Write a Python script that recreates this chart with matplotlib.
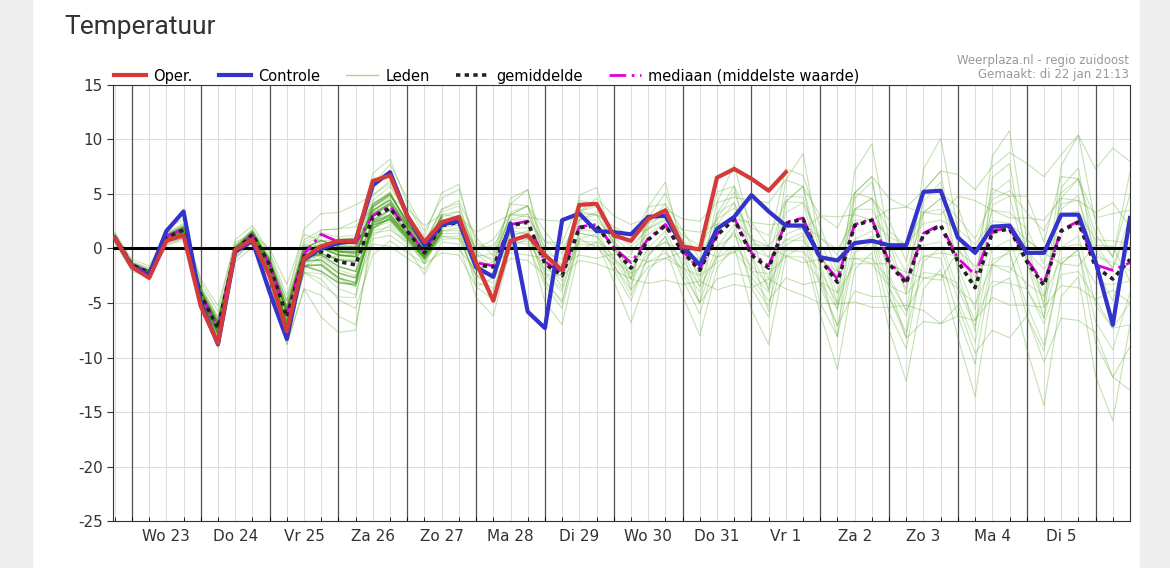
import matplotlib.pyplot as plt
import numpy as np
from matplotlib.lines import Line2D

plt.rcParams['axes.unicode_minus'] = False

# 6-hourly steps, step 0 = Wo 23 00:00
steps = np.arange(-1, 59)
day_labels = ['Wo 23', 'Do 24', 'Vr 25', 'Za 26', 'Zo 27', 'Ma 28', 'Di 29',
              'Wo 30', 'Do 31', 'Vr 1', 'Za 2', 'Zo 3', 'Ma 4', 'Di 5']

oper = [1.0, -1.7, -2.7, 0.7, 1.2, -5.3, -8.7, -0.1, 0.8, -2.5, -7.6, -0.9, 0.2, 0.7, 0.7,
        6.2, 6.7, 3.0, 0.6, 2.4, 2.9, -1.3, -4.8, 0.7, 1.2, -0.6, -2.0, 4.0, 4.1, 1.2,
        0.7, 2.7, 3.5, 0.2, -0.1, 6.5, 7.3, 6.4, 5.3, 7.0]
controle = [1.0, -1.7, -2.4, 1.6, 3.4, -5.0, -8.8, -0.3, 0.7, -4.0, -8.3, -1.0, 0.0, 0.5, 0.7,
            5.8, 7.0, 3.0, 0.3, 2.2, 2.5, -1.7, -2.6, 2.3, -5.8, -7.3, 2.6, 3.2, 1.6, 1.5,
            1.3, 2.9, 3.0, 0.2, -1.5, 1.8, 2.9, 4.9, 3.4, 2.1, 2.1, -0.8, -1.1, 0.5, 0.7,
            0.3, 0.3, 5.2, 5.3, 1.0, -0.4, 2.0, 2.1, -0.4, -0.4, 3.1, 3.1, -1.2, -7.0, 2.8]
gemiddelde = [1.0, -1.5, -2.2, 1.0, 1.7, -4.3, -7.3, -0.2, 1.3, -1.5, -6.3, -0.7, -0.3, -1.2, -1.5,
              2.9, 3.7, 1.6, -0.4, 2.1, 2.4, -1.5, -1.7, 2.1, 2.4, -1.4, -2.5, 1.9, 2.1, 0.0,
              -1.8, 0.8, 2.1, -0.3, -2.0, 1.2, 2.7, -0.6, -1.8, 2.3, 2.7, -1.0, -3.1, 2.1, 2.6,
              -1.4, -3.2, 1.3, 2.1, -1.2, -3.6, 1.5, 1.8, -1.2, -3.4, 1.6, 2.4, -1.7, -2.8, -1.0]
mediaan = [1.0, -1.5, -2.2, 1.1, 1.8, -4.2, -7.2, -0.1, 1.2, -1.4, -6.0, -0.5, 1.3, 0.6, 0.5,
           3.0, 3.9, 1.7, -0.3, 2.2, 2.5, -1.3, -1.6, 2.2, 2.5, -1.2, -2.3, 2.0, 2.2, 0.1,
           -1.3, 0.9, 2.2, -0.2, -1.9, 1.3, 2.8, -0.4, -1.6, 2.4, 2.8, -0.9, -2.8, 2.2, 2.7,
           -1.2, -3.0, 1.4, 2.2, -0.9, -2.4, 1.6, 1.9, -1.0, -3.2, 1.7, 2.5, -1.5, -2.0, -1.3]

# ensemble members (Leden), typed as deviations from the mean
leden_dev = [
    [0.3, 0.2, 0.1, 0.4, 0.6, 0.8, -0.5, 0.3, 0.5, 1.0, 1.5, 2.5, 3.5, 4.5, 5.5, 2.0, 2.5, 1.5, 1.0, 1.5, 2.0, 2.5, 1.0, 2.0, 1.5,
     3.0, 2.0, 1.5, 2.5, 3.0, 4.0, 2.0, 1.5, 3.0, 4.5, 3.0, 2.0, 5.0, 6.0, 4.0, 3.0, 4.0, 5.0, 3.0, 4.0, 6.0, 7.0, 4.0, 5.0, 8.0, 9.0,
     6.0, 7.0, 9.0, 10.0, 7.0, 8.0, 9.0, 12.0, 9.0],
    [-0.3, -0.4, -0.5, -0.6, -1.0, -1.2, -1.5, -0.8, -0.5, -1.5, -2.5, -3.0, -4.0, -5.0, -5.5, -2.0, -2.5, -1.5, -2.0, -1.5, -2.0, -3.0, -4.5, -2.0, -1.5,
     -3.5, -4.5, -2.0, -1.5, -3.0, -5.0, -3.0, -2.0, -4.0, -6.0, -3.0, -2.5, -5.0, -7.0, -3.0, -2.5, -5.0, -8.0, -4.0, -3.0, -6.0, -9.0, -5.0, -4.0, -7.0, -10.0,
     -5.0, -4.5, -8.0, -11.0, -6.0, -5.0, -10.0, -13.0, -6.0],
    [0.1, 0.0, 0.2, 0.3, 0.4, 0.5, 0.8, 0.5, 0.3, 0.5, 1.0, 1.0, 1.5, 2.0, 2.5, 3.0, 4.0, 3.0, 2.0, 2.5, 3.0, 2.0, 1.5, 2.0, 3.0,
     1.0, 0.5, 1.5, 2.0, 1.0, -1.0, 2.0, 3.0, 1.0, -1.0, 3.0, 5.0, 2.0, -2.0, 4.0, 6.0, 1.0, -2.0, 5.0, 7.0, 2.0, -1.0, 6.0, 8.0, 3.0, 0.0,
     7.0, 9.0, 2.0, -2.0, 6.0, 8.0, 4.0, 2.0, 8.0],
    [-0.2, -0.1, 0.0, -0.3, -0.4, -0.6, -1.5, -0.3, -0.4, -0.8, -1.5, -1.0, -0.5, 0.5, 1.0, -1.5, -2.0, -1.0, -0.5, -1.0, -1.5, -1.0, -2.0, -1.5, -2.0,
     -2.0, -3.0, -1.0, -2.0, -1.5, -2.0, -2.5, -3.0, -1.5, -3.0, -4.0, -5.0, -2.0, -3.0, -5.0, -6.0, -2.0, -4.0, -6.0, -7.0, -3.0, -5.0, -8.0, -9.0, -4.0, -6.0,
     -9.0, -10.0, -5.0, -7.0, -8.0, -9.0, -6.0, -9.0, -12.0],
    [0.5, 0.3, 0.4, 0.8, 1.0, 1.2, 1.5, 1.0, 0.8, 1.2, 2.0, 1.5, 2.0, 3.0, 4.0, 0.5, 1.0, 2.0, 2.5, 1.0, 0.5, 3.0, 4.0, 1.0, 0.5,
     4.0, 5.0, 1.5, 1.0, 2.0, 3.0, 1.0, 0.5, 2.0, 3.5, 1.0, 0.0, 3.0, 4.0, 0.0, -1.0, 4.0, 6.0, 1.0, 0.0, 5.0, 7.0, 2.0, 1.0, 6.0, 8.0,
     2.0, 1.0, 4.0, 6.0, 3.0, 2.0, 5.0, 7.0, 3.0],
    [-0.5, -0.6, -0.4, -0.8, -0.7, -1.0, -0.5, -1.0, -1.2, -2.0, -1.0, -1.5, -2.5, -3.5, -4.0, -3.5, -3.0, -2.0, -1.0, -2.5, -3.0, -2.0, -1.0, -3.0, -3.5,
     -1.0, 0.0, -3.0, -3.5, -2.0, -1.0, -4.0, -5.0, -3.0, -1.0, -5.0, -6.0, -3.0, -1.0, -6.0, -7.0, -4.0, -2.0, -7.0, -8.0, -4.0, -2.0, -7.0, -9.0, -5.0, -3.0,
     -6.0, -7.0, -4.0, -2.0, -5.0, -6.0, -3.0, -1.0, -4.0],
    [0.2, 0.1, 0.0, 0.2, 0.3, -0.3, -1.2, 0.2, 0.2, 0.5, -2.0, -1.5, 2.0, 3.0, 3.5, 1.0, 1.5, 0.5, 0.0, 1.0, 1.0, 1.5, 2.5, 1.0, 1.5,
     2.0, 3.0, 2.5, 2.0, 1.0, 2.5, 3.0, 2.0, 2.0, 1.0, 4.0, 3.0, 3.0, 2.0, 5.0, 4.0, 3.0, 1.0, 3.0, 2.0, 4.0, 2.0, 4.0, 3.0, 5.0, 3.0,
     4.0, 3.0, 6.0, 4.0, 5.0, 4.0, 3.0, 2.0, 6.0],
    [-0.1, -0.2, -0.3, -0.1, -0.2, -0.8, -1.8, -0.1, -0.2, -0.5, -2.5, -3.0, -6.0, -6.5, -6.0, -1.0, -0.5, -0.5, -1.0, -0.5, -0.5, -2.0, -3.0, -0.5, -1.0,
     -1.5, -2.5, -0.5, -1.0, -2.0, -3.0, -1.5, -1.0, -2.5, -4.0, -2.0, -1.0, -3.0, -4.5, -2.0, -1.5, -4.0, -5.0, -2.5, -2.0, -4.5, -6.0, -2.0, -3.0, -5.0, -7.0,
     -3.0, -2.0, -5.0, -6.0, -3.0, -2.5, -7.0, -9.0, -8.0],
    [0.4, 0.5, 0.6, 0.3, 0.0, 1.5, 2.0, 0.8, 0.0, 1.5, 3.0, 2.0, 1.0, 2.0, 2.5, 4.0, 4.5, 2.5, 1.5, 3.0, 3.5, 1.0, 0.0, 2.5, 3.0,
     0.0, -1.0, 3.0, 3.5, 0.5, -2.0, 3.0, 4.0, 0.0, -3.0, 2.0, 3.0, 0.0, -4.0, 2.0, 3.0, -1.0, -5.0, 3.0, 4.0, -2.0, -5.0, 4.0, 5.0, -1.0, -4.0,
     5.0, 6.0, 0.0, -3.0, 4.0, 5.0, 0.0, -4.0, 3.0],
    [-0.4, -0.3, -0.2, -0.5, -0.8, 0.8, 1.0, -0.6, -0.8, 0.3, 1.5, 0.5, -1.0, -1.5, -2.0, -2.5, -3.5, -2.5, -1.5, -2.0, -2.5, -0.5, 0.5, -2.5, -3.0,
     0.5, 1.0, -2.5, -3.0, -0.5, 1.0, -2.0, -3.0, 0.0, 2.0, -2.0, -3.0, 1.0, 2.0, -3.0, -4.0, 0.0, 2.0, -3.0, -4.0, 0.0, 1.0, -4.0, -5.0, 1.0, 2.0,
     -3.0, -4.0, 2.0, 3.0, -3.0, -4.0, 2.0, 3.0, -2.0],
]

fig = plt.figure(figsize=(11.70, 5.68), dpi=100)
fig.patch.set_facecolor('white')
fig.patches.append(plt.Rectangle((0, 0), 0.027, 1, color='#eeeeee', transform=fig.transFigure))
fig.patches.append(plt.Rectangle((0.974, 0), 0.026, 1, color='#eeeeee', transform=fig.transFigure))
fig.text(0.055, 0.94, 'Temperatuur', fontsize=19, color='#333333', family='Roboto')

ax = fig.add_axes([0.0966, 0.0827, 0.8692, 0.7677])
x = steps
for s in range(-1, 59):
    ax.axvline(s, color='#dddddd', lw=0.8, zorder=0)
for yv in range(-25, 16, 5):
    ax.axhline(yv, color='#dddddd', lw=0.8, zorder=0)
for d in range(0, 59, 4):
    ax.axvline(d, color='#555555', lw=0.9, zorder=1)

mean_arr = np.array(gemiddelde)
for dev in leden_dev:
    ax.plot(x, mean_arr + np.array(dev), color='#5aab2a', lw=0.8, alpha=0.35, zorder=2)
    ax.plot(x, mean_arr + 0.5 * np.array(dev), color='#5aab2a', lw=0.8, alpha=0.3, zorder=2)
# denser early cluster around the mean
for dev in leden_dev:
    ax.plot(x[:20], mean_arr[:20] + 0.3 * np.array(dev[:20]), color='#3f9a14', lw=1.2, alpha=0.6, zorder=2)

ax.axhline(0, color='black', lw=2.2, zorder=3)
ax.plot(x, mediaan, color='#e000e0', lw=2, dashes=(6, 2, 1, 2), zorder=4)
ax.plot(x, gemiddelde, color='#222222', lw=2.6, dashes=(1.2, 1.2), zorder=5)
ax.plot(x, controle, color='#3333cc', lw=3, zorder=6)
ax.plot(x[:len(oper)], oper, color='#d43a3a', lw=3, zorder=7)

ax.set_xlim(-1.1, 58)
ax.set_ylim(-25, 15)
ax.set_yticks(range(-25, 16, 5))
ax.set_xticks(range(2, 58, 4))
ax.set_xticklabels(day_labels)
ax.set_xticks(range(-1, 59), minor=True)
ax.tick_params(axis='x', which='major', length=0, labelsize=11, pad=6, colors='#333333')
ax.tick_params(axis='x', which='minor', length=3, direction='in')
ax.tick_params(axis='y', labelsize=11, length=4, colors='#333333')
for sp in ax.spines.values():
    sp.set_color('#333333')

# legend drawn above the axes
handles = [Line2D([], [], color='#d43a3a', lw=3),
           Line2D([], [], color='#3333cc', lw=3),
           Line2D([], [], color='#5aab2a', lw=1, alpha=0.5),
           Line2D([], [], color='#222222', lw=2.6, dashes=(1.2, 1.2)),
           Line2D([], [], color='#e000e0', lw=2, dashes=(6, 2, 1, 2))]
ax.legend(handles, ['Oper.', 'Controle', 'Leden', 'gemiddelde', 'mediaan (middelste waarde)'],
          loc='lower left', bbox_to_anchor=(-0.005, 0.99), ncol=5, frameon=False,
          fontsize=10.5, handlelength=2.2, columnspacing=1.8, borderaxespad=0, handletextpad=0.5)
fig.text(0.965, 0.888, 'Weerplaza.nl - regio zuidoost', ha='right', fontsize=8.5, color='#999999')
fig.text(0.965, 0.862, 'Gemaakt: di 22 jan 21:13', ha='right', fontsize=8.5, color='#999999')

fig.savefig('out.png', dpi=100)
